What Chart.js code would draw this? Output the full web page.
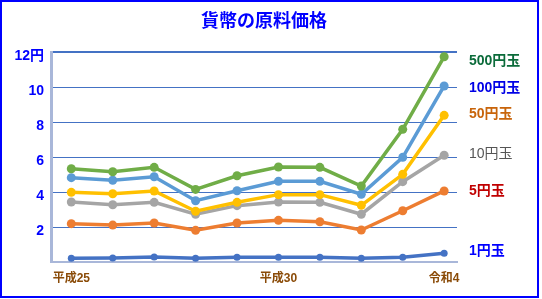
<!DOCTYPE html>
<html lang="ja">
<head>
<meta charset="UTF-8">
<script src="https://cdn.jsdelivr.net/npm/chart.js"></script>
<title>貨幣の原料価格</title>
<style>
  body { margin: 0; background: #fff; }
  #frame { width: 535px; height: 294px; border: 2px solid #0000ff; }
  canvas { display: block; }
</style>
</head>
<body>
<div id="frame"><canvas id="chart" width="535" height="294"></canvas></div>
<script>
// years on the x axis (only some get a label)
const years = ['平成25', '平成26', '平成27', '平成28', '平成29', '平成30', '令和元', '令和2', '令和3', '令和4'];
const labeledYears = [0, 5, 9];

// raw material price per coin (円)
const yen500 = [5.33, 5.16, 5.41, 4.15, 4.93, 5.43, 5.41, 4.34, 7.58, 11.73];
const yen100 = [4.82, 4.67, 4.87, 3.50, 4.07, 4.61, 4.61, 3.87, 5.98, 10.06];
const yen50  = [3.98, 3.90, 4.06, 2.90, 3.41, 3.85, 3.85, 3.24, 5.01, 8.38];
const yen10  = [3.43, 3.27, 3.41, 2.73, 3.22, 3.43, 3.41, 2.73, 4.59, 6.10];
const yen5   = [2.19, 2.11, 2.23, 1.81, 2.23, 2.38, 2.30, 1.83, 2.93, 4.06];
const yen1   = [0.21, 0.23, 0.29, 0.21, 0.27, 0.27, 0.27, 0.21, 0.27, 0.50];

const coinNames = ['500円玉', '100円玉', '50円玉', '10円玉', '5円玉', '1円玉'];
const nameLevels = [11.46, 9.96, 8.46, 6.17, 4.07, 0.63];

const font = '"Liberation Sans", "Noto Sans CJK JP", sans-serif';

function series(label, values, color, radius) {
    return {
        label: label,
        data: values.map((v, i) => ({ x: i, y: v })),
        borderColor: color,
        backgroundColor: color,
        pointBackgroundColor: color,
        pointBorderWidth: 0,
        pointRadius: radius,
        borderWidth: 3.5,
        tension: 0,
    };
}

// title and the coin names at the right side
const textPlugin = {
    id: 'texts',
    afterDraw(chart) {
        const ctx = chart.ctx;
        const y = chart.scales.y;
        ctx.save();
        ctx.textBaseline = 'middle';
        ctx.textAlign = 'center';
        ctx.fillStyle = '#0000ff';
        ctx.font = 'bold 18px ' + font;
        ctx.fillText('貨幣の原料価格', 262, 20);

        const colors = ['#0b6b3a', '#0000e6', '#c8640a', '#555555', '#c00000', '#0000ff'];
        const weights = ['bold', 'bold', 'bold', 'normal', 'bold', 'bold'];
        ctx.textAlign = 'left';
        coinNames.forEach((name, i) => {
            ctx.font = weights[i] + ' 14px ' + font;
            ctx.fillStyle = colors[i];
            ctx.fillText(name, 467, y.getPixelForValue(nameLevels[i]));
        });
        ctx.restore();
    }
};

new Chart(document.getElementById('chart'), {
    type: 'line',
    data: {
        datasets: [
            series('500円玉', yen500, '#70ad47', 4.5),
            series('100円玉', yen100, '#5b9bd5', 4.5),
            series('50円玉', yen50, '#ffc000', 4.5),
            series('10円玉', yen10, '#a5a5a5', 4.5),
            series('5円玉', yen5, '#ed7d31', 4.5),
            series('1円玉', yen1, '#4472c4', 3.5),
        ]
    },
    plugins: [textPlugin],
    options: {
        responsive: false,
        animation: false,
        layout: { padding: { top: 50, right: 80, left: 0, bottom: 0 } },
        plugins: {
            legend: { display: false },
            title: { display: false },
            tooltip: { enabled: false },
        },
        scales: {
            x: {
                type: 'linear',
                min: -0.49,
                max: 9.31,
                afterBuildTicks: (scale) => { scale.ticks = labeledYears.map(v => ({ value: v })); },
                afterFit: (scale) => { scale.height = 34; },
                grid: { display: false },
                border: { color: '#a9b7d9', width: 2 },
                ticks: {
                    autoSkip: false,
                    maxRotation: 0,
                    padding: 1,
                    color: '#8a4b08',
                    font: { family: font, size: 12, weight: 'bold' },
                    callback: (v) => years[v],
                },
            },
            y: {
                min: 0,
                max: 12,
                afterFit: (scale) => { scale.width = 49; },
                ticks: {
                    stepSize: 2,
                    padding: 7,
                    color: '#0000ff',
                    font: { family: font, size: 14, weight: 'bold', lineHeight: '8px' },
                    callback: (v) => v === 0 ? '' : ['', v === 12 ? '12円' : String(v)],
                },
                grid: {
                    drawTicks: false,
                    color: (c) => c.tick.value === 0 ? 'rgba(0,0,0,0)' : '#4472c4',
                    lineWidth: (c) => c.tick.value === 12 ? 2 : 1,
                },
                border: { color: '#a9b7d9', width: 3 },
            },
        },
    },
});
</script>
</body>
</html>
